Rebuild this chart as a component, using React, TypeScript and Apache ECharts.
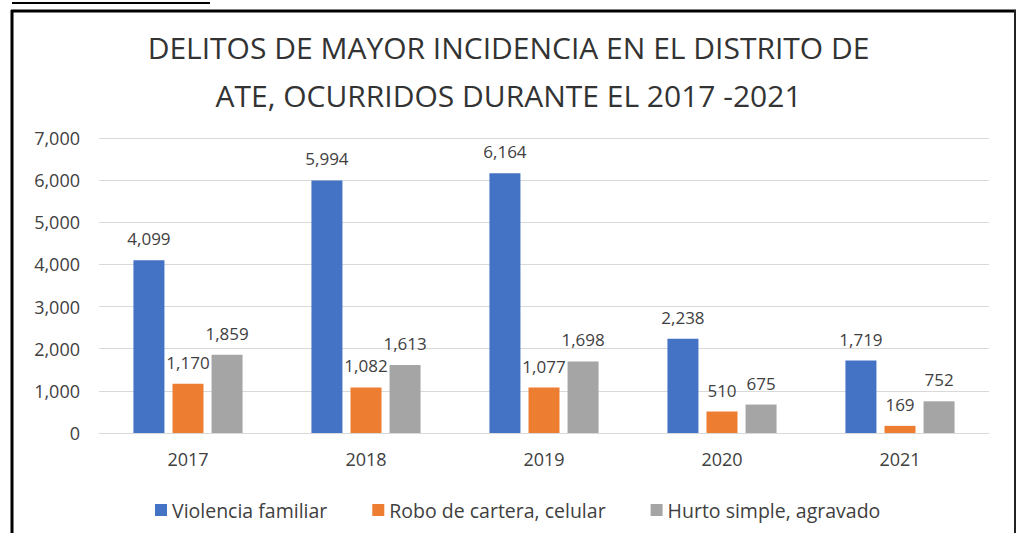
import React, { useEffect, useRef } from "react";
import * as echarts from "echarts";

const years = ["2017", "2018", "2019", "2020", "2021"];
const seriesNames = ["Violencia familiar", "Robo de cartera, celular", "Hurto simple, agravado"];
const violencia = [4099, 5994, 6164, 2238, 1719];
const robo = [1170, 1082, 1077, 510, 169];
const hurto = [1859, 1613, 1698, 675, 752];
const colors = ["#4472C4", "#ED7D31", "#A5A5A5"];
const titleText = "DELITOS DE MAYOR INCIDENCIA EN EL DISTRITO DE\nATE, OCURRIDOS DURANTE EL 2017 -2021";

const fmt = (v: number) => v.toLocaleString("en-US");
const FONT = "Open Sans";

export default function App() {
  const ref = useRef<HTMLDivElement>(null);
  useEffect(() => {
    document.body.style.margin = "0";
    const chart = echarts.init(ref.current!, null, { renderer: "svg" });
    const data = [violencia, robo, hurto];
    chart.setOption({
      animation: false,
      backgroundColor: "#ffffff",
      title: {
        text: titleText,
        left: "center",
        top: 18,
        textStyle: { fontFamily: FONT, fontSize: 30, fontWeight: "normal", color: "#333", lineHeight: 48 },
      },
      legend: {
        data: seriesNames,
        left: 150,
        top: 495,
        itemWidth: 12,
        itemHeight: 12,
        itemGap: 45,
        icon: "rect",
        textStyle: { fontFamily: FONT, fontSize: 19.5, color: "#404040" },
      },
      grid: { left: 99, right: 28, top: 138, bottom: 100 },
      xAxis: {
        type: "category",
        data: years,
        axisTick: { show: false },
        axisLine: { lineStyle: { color: "#d9d9d9" } },
        axisLabel: { fontFamily: FONT, fontSize: 18, color: "#404040", margin: 17 },
      },
      yAxis: {
        type: "value",
        min: 0,
        max: 7000,
        interval: 1000,
        axisLabel: { fontFamily: FONT, fontSize: 18, color: "#404040", margin: 19, formatter: (v: number) => fmt(v) },
        splitLine: { lineStyle: { color: "#d9d9d9" } },
      },
      series: data.map((d, i) => ({
        name: seriesNames[i],
        type: "bar",
        data: d,
        barWidth: 31,
        barGap: "26%",
        itemStyle: { color: colors[i] },
        label: {
          show: true,
          position: "top",
          distance: 13,
          fontFamily: FONT,
          fontSize: 17,
          color: "#404040",
          formatter: (p: any) => fmt(p.value),
        },
      })),
      graphic: [
        { type: "line", shape: { x1: 12, y1: 3, x2: 210, y2: 3 }, style: { stroke: "#000", lineWidth: 2 } },
        { type: "line", shape: { x1: 11, y1: 11, x2: 1016, y2: 11 }, style: { stroke: "#000", lineWidth: 3 } },
        { type: "line", shape: { x1: 12, y1: 10, x2: 12, y2: 533 }, style: { stroke: "#000", lineWidth: 3 } },
        { type: "line", shape: { x1: 1015, y1: 10, x2: 1015, y2: 533 }, style: { stroke: "#222", lineWidth: 2 } },
      ],
    });
    return () => chart.dispose();
  }, []);
  return <div ref={ref} style={{ width: 1017, height: 533 }} />;
}
